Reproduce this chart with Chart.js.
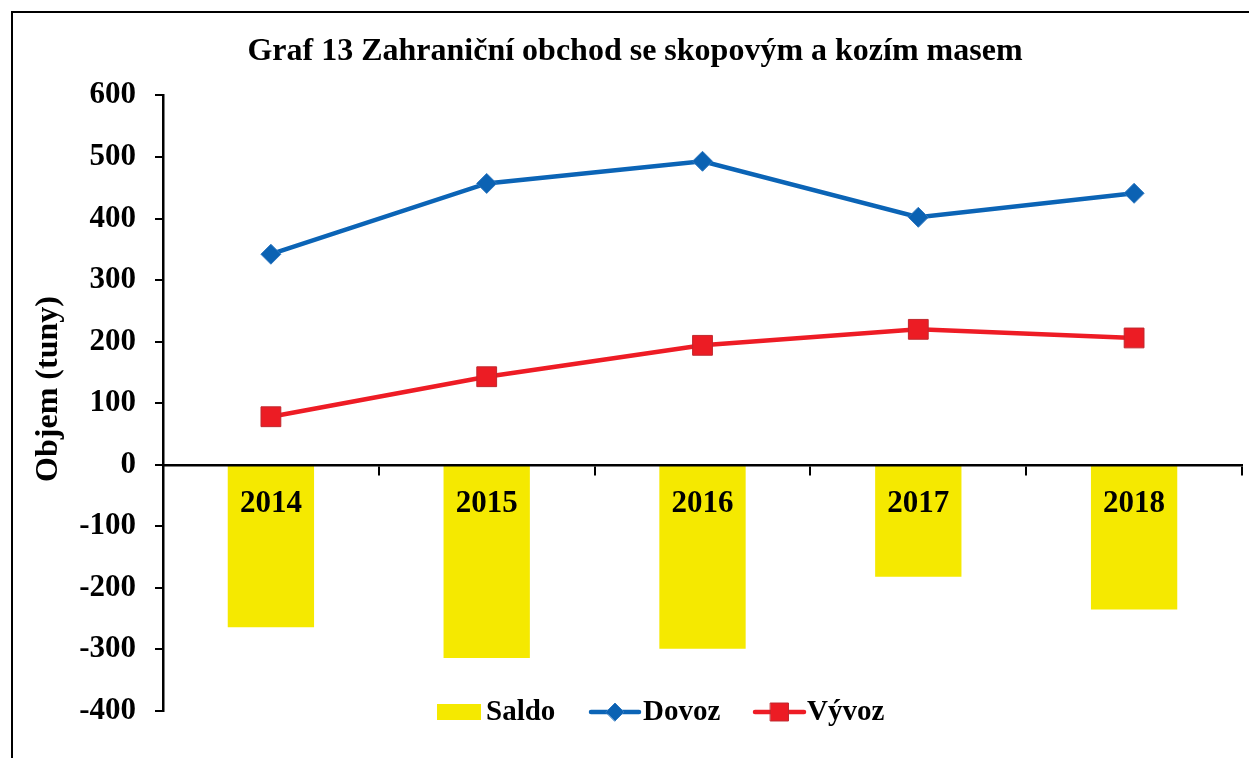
<!DOCTYPE html>
<html>
<head>
<meta charset="utf-8">
<script src="https://cdn.jsdelivr.net/npm/chart.js@4/dist/chart.umd.min.js"></script>
<style>
  html, body { margin: 0; padding: 0; background: #fff; overflow: hidden; }
  #wrap { position: relative; width: 1249px; height: 758px; }
  #frame { position: absolute; left: 11px; top: 11px; width: 1300px; height: 800px; border: 2px solid #000; }
  canvas { position: absolute; left: 0; top: 0; }
</style>
</head>
<body>
<div id="wrap">
  <div id="frame"></div>
  <canvas id="chart" width="1249" height="758"></canvas>
</div>
<script>
// --- DATA ---
const years = ['2014', '2015', '2016', '2017', '2018'];
const dovoz = [342, 457, 493, 402, 441];
const vyvoz = [78, 143, 194, 220, 206];
const saldo = [-264, -314, -299, -182, -235];

const FONT = '"Liberation Serif", "Times New Roman", serif';
const Y_TITLE = 'Objem (tuny)';

// y axis title sits a bit above the axis middle in the original
const yTitle = {
    id: 'yTitle',
    afterDraw(chart) {
        const ctx = chart.ctx;
        ctx.save();
        ctx.translate(49, 389);
        ctx.rotate(-Math.PI / 2);
        ctx.font = 'bold 32px ' + FONT;
        ctx.fillStyle = '#000';
        ctx.textAlign = 'center';
        ctx.textBaseline = 'middle';
        ctx.fillText(Y_TITLE, 0, 0);
        ctx.restore();
    }
};

// --- LEGEND (drawn over the bottom of the plot, like the original) ---
const bottomLegend = {
    id: 'bottomLegend',
    afterDraw(chart) {
        const ctx = chart.ctx;
        const ds = chart.data.datasets;
        const y = 712;
        ctx.save();
        ctx.font = 'bold 29px ' + FONT;
        ctx.textBaseline = 'middle';

        // Saldo - box
        ctx.fillStyle = ds[2].backgroundColor;
        ctx.fillRect(437, 704, 44, 16);
        ctx.fillStyle = '#000';
        ctx.fillText(ds[2].label, 486, y + 1);

        // Dovoz / Vyvoz - line with marker
        [[0, 591, 639, 643], [1, 755, 804, 807]].forEach(([i, x1, x2, tx]) => {
            const d = ds[i];
            ctx.strokeStyle = d.borderColor;
            ctx.lineWidth = 4.5;
            ctx.lineCap = 'round';
            ctx.beginPath();
            ctx.moveTo(x1, y);
            ctx.lineTo(x2, y);
            ctx.stroke();
            ctx.fillStyle = d.pointBackgroundColor;
            ctx.strokeStyle = d.pointBorderColor;
            ctx.lineWidth = 1;
            Chart.helpers.drawPoint(ctx, {
                pointStyle: d.pointStyle,
                radius: i === 0 ? 9 : 12.7,
                rotation: 0,
                borderWidth: 1
            }, (x1 + x2) / 2, y);
            ctx.fillStyle = '#000';
            ctx.fillText(d.label, tx, y + 1);
        });
        ctx.restore();
    }
};

new Chart(document.getElementById('chart'), {
    data: {
        labels: years,
        datasets: [
            {
                type: 'line',
                label: 'Dovoz',
                data: dovoz,
                borderColor: '#0b64b6',
                borderWidth: 4.5,
                pointStyle: 'rectRot',
                pointRadius: 10,
                pointBackgroundColor: '#0b62b3',
                pointBorderColor: '#2f78c0',
                pointBorderWidth: 1,
                tension: 0,
                order: 0
            },
            {
                type: 'line',
                label: 'Vývoz',
                data: vyvoz,
                borderColor: '#ee1c25',
                borderWidth: 4.5,
                pointStyle: 'rect',
                pointRadius: 14,
                pointBackgroundColor: '#ec1c24',
                pointBorderColor: '#c0282e',
                pointBorderWidth: 1,
                tension: 0,
                order: 1
            },
            {
                type: 'bar',
                label: 'Saldo',
                data: saldo,
                backgroundColor: '#f5e900',
                barPercentage: 0.4,
                categoryPercentage: 1,
                order: 2
            }
        ]
    },
    options: {
        responsive: false,
        animation: false,
        layout: { autoPadding: false, padding: { left: 28, right: 7, top: 0, bottom: 47 } },
        plugins: {
            legend: { display: false },
            tooltip: { enabled: false },
            title: {
                display: true,
                text: 'Graf 13 Zahraniční obchod se skopovým a kozím masem',
                color: '#000',
                font: { family: FONT, size: 32, weight: 'bold', lineHeight: 1.2 },
                padding: { top: 33, bottom: 24 }
            }
        },
        scales: {
            x: {
                type: 'category',
                position: { y: 0 },
                offset: true,
                afterFit(scale) { scale.paddingLeft = 0; scale.paddingRight = 0; },
                grid: {
                    offset: true,
                    drawOnChartArea: false,
                    drawTicks: true,
                    tickLength: 9,
                    color: '#000',
                    lineWidth: 2,
                    z: 1
                },
                border: { display: true, color: '#000', width: 2.5, z: 1 },
                ticks: {
                    color: '#000',
                    padding: 12,
                    maxRotation: 0,
                    z: 1,
                    font: { family: FONT, size: 31, weight: 'bold' }
                }
            },
            y: {
                min: -400,
                max: 600,
                afterFit(scale) { scale.width = 135; },
                grid: {
                    drawOnChartArea: false,
                    tickLength: 8,
                    color: '#000',
                    lineWidth: 2
                },
                border: { display: true, color: '#000', width: 2.5 },
                ticks: {
                    stepSize: 100,
                    color: '#000',
                    padding: 19,
                    font: { family: FONT, size: 31, weight: 'bold' }
                },
                title: { display: false }
            }
        }
    },
    plugins: [bottomLegend, yTitle]
});
</script>
</body>
</html>
